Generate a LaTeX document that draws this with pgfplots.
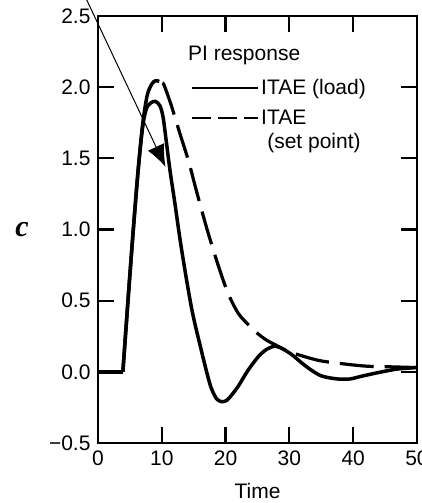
\documentclass[border=0pt]{standalone}
\usepackage{pgfplots}
\pgfplotsset{compat=1.18}
\usetikzlibrary{arrows.meta}
\usepackage{fontspec}
\setmainfont{Liberation Sans}
\newfontfamily\serifc{Liberation Serif}
\begin{document}
\begin{tikzpicture}
\begin{axis}[
  scale only axis, width=319pt, height=427pt,
  xmin=0,xmax=50,ymin=-0.5,ymax=2.5,
  xtick={0,10,20,30,40,50}, xticklabels={0,10,20,30,40,50},
  ytick={-0.5,0,0.5,1,1.5,2,2.5}, yticklabels={−0.5,0.0,0.5,1.0,1.5,2.0,2.5},
  major tick length=16pt,
  every major tick/.append style={black, line width=2.2pt},
  axis line style={line width=2pt},
  axis on top,
  ticklabel style={font=\fontsize{21}{24}\selectfont},
  xticklabel style={yshift=-4pt},
  yticklabel style={xshift=-4pt},
  legend style={draw=none, fill=none, at={(axis cs:14.5,2.07)}, anchor=north west,
    font=\fontsize{21}{24}\selectfont, row sep=10pt, inner sep=0pt,
    nodes={inner sep=2pt}},
  legend cell align=left,
  legend image code/.code={\draw[#1] (0pt,0pt) -- (66pt,0pt);},
]
% flat part (dead time), shared
\addplot[black, line width=3.5pt, forget plot] coordinates {(0,0)(3.9,0)};
% ITAE (load)
\addplot[black, line width=3.5pt, smooth, tension=0.5, forget plot] coordinates {
(3.9,0)(4.7,0.50)(5.5,0.98)(6.3,1.42)(7.0,1.72)(7.6,1.85)(8.3,1.89)(9.0,1.90)(9.7,1.87)(10.2,1.79)(10.7,1.62)(11.3,1.41)(12.0,1.20)(13.1,0.86)(14.7,0.44)(16.2,0.15)(17.2,-0.03)(17.8,-0.12)(18.6,-0.19)(19.4,-0.21)(20.2,-0.20)(21.0,-0.16)(22.0,-0.10)(23.5,0.01)(25.2,0.11)(26.5,0.16)(27.8,0.18)(29.0,0.16)(30.4,0.12)(32.0,0.06)(33.5,0.01)(35.1,-0.03)(37.5,-0.05)(39.5,-0.05)(41.4,-0.03)(44.5,0.00)(47,0.02)(50,0.03)};
% ITAE (set point): rise shared, solid up to the peak
\addplot[black, line width=3.5pt, smooth, tension=0.5, forget plot] coordinates {
(3.9,0)(4.7,0.50)(5.5,0.98)(6.3,1.42)(7.0,1.74)(7.7,1.94)(8.4,2.02)(9.0,2.045)(9.6,2.04)};
% then dashed
\addplot[black, line width=3.2pt, smooth, tension=0.5, dash pattern=on 34pt off 11pt, forget plot] coordinates {
(10.1,2.03)(10.4,2.01)(11.5,1.87)(12.8,1.68)(14.2,1.48)(15.2,1.31)(16.1,1.16)(17.3,0.97)(18.9,0.74)(20.4,0.55)(22.0,0.41)(23.6,0.33)(25.0,0.27)(26.5,0.22)(27.8,0.19)(29.5,0.15)(31.4,0.12)(34.6,0.08)(37.7,0.06)(42.0,0.04)(46,0.035)(50,0.03)};
\addlegendimage{black, line width=2.5pt}
\addlegendentry{ITAE (load)}
\addlegendimage{black, line width=2.5pt, dash pattern=on 19pt off 7pt}
\addlegendentry{ITAE}
\node[anchor=west, inner sep=0pt, font=\fontsize{21}{24}\selectfont] at (axis cs:14.1,2.22) {PI response};
\node[anchor=west, inner sep=0pt, font=\fontsize{21}{24}\selectfont] at (axis cs:26.5,1.61) {(set point)};
\coordinate (cpos) at (axis cs:-11.9,1.0);
\coordinate (tpos) at (axis cs:25,-0.84);
\coordinate (astart) at (axis cs:-1.84,2.62);
\coordinate (aend) at (axis cs:10.58,1.44);
\coordinate (sw) at (rel axis cs:0,0);
\end{axis}
\node[font=\fontsize{30}{32}\selectfont\serifc\bfseries\itshape] at (cpos) {c};
\node[font=\fontsize{21}{24}\selectfont] at (tpos) {Time};
\draw[line width=1pt, -{Latex[length=22pt,width=18pt]}] (astart) -- (aend);
\pgfresetboundingbox
\path[use as bounding box] (sw) ++(-98pt,-60pt) rectangle ++(421pt,503pt);
\end{tikzpicture}
\end{document}
